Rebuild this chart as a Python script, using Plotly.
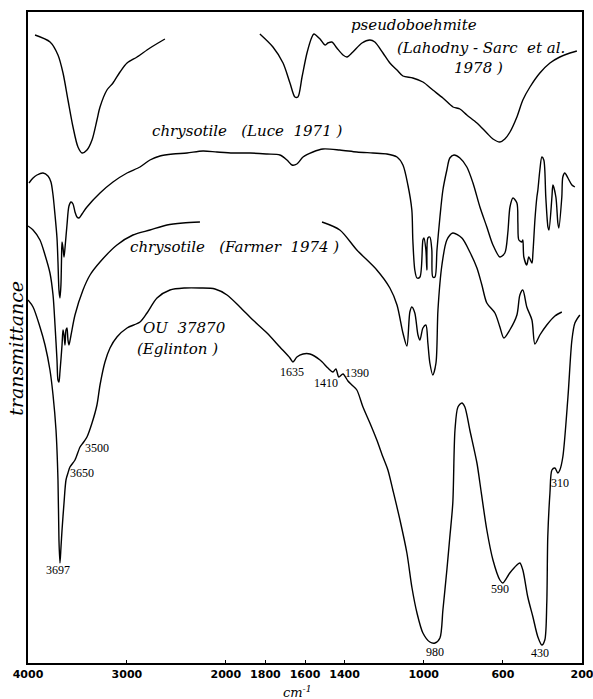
import numpy as np
import plotly.graph_objects as go

# ---- data (wavenumber in cm^-1, transmittance in arbitrary offset units) ----
pb_left_wn = [3929, 3777, 3697, 3646, 3596, 3545, 3495, 3454, 3404, 3353,
              3303, 3272, 3202, 3141, 3070, 2999, 2898, 2767, 2616]
pb_left_t = [628, 621, 608, 590, 563, 536, 516, 510, 513, 523,
             543, 556, 573, 580, 591, 600, 606, 615, 624]

pb_right_wn = [1828, 1762, 1711, 1676, 1651, 1636, 1615, 1590, 1565, 1555,
               1524, 1499, 1484, 1464, 1439, 1408, 1388, 1358, 1312, 1272,
               1247, 1206, 1171, 1135, 1105, 1055, 1004, 954, 903, 852,
               817, 782, 731, 681, 650, 615, 590, 564, 529, 499,
               463, 413, 362, 312, 261, 226]
pb_right_t = [629, 616, 600, 580, 566, 566, 586, 610, 626, 629,
              624, 618, 620, 621, 615, 608, 606, 611, 620, 623,
              621, 610, 600, 593, 587, 585, 581, 573, 565, 556,
              554, 548, 540, 530, 524, 521, 524, 531, 546, 563,
              576, 590, 600, 606, 610, 612]

luce_wn = [3990, 3949, 3909, 3848, 3798, 3768, 3747, 3727, 3707, 3697,
           3687, 3677, 3667, 3661, 3656, 3646, 3636, 3626, 3606, 3586,
           3565, 3545, 3525, 3505, 3485, 3454, 3404, 3272, 3141, 2999,
           2868, 2767, 2666, 2535, 2393, 2231, 2090, 1964, 1878, 1792,
           1727, 1691, 1666, 1641, 1610, 1560, 1509, 1424, 1338, 1257,
           1186, 1135, 1105, 1080, 1060, 1055, 1045, 1034, 1019, 1004,
           999, 989, 984, 979, 969, 959, 954, 943, 933, 918,
           903, 883, 868, 847, 817, 782, 751, 716, 681, 650,
           615, 590, 575, 564, 549, 529, 524, 519, 504, 499,
           494, 479, 469, 453, 448, 438, 428, 423, 413, 403,
           393, 383, 372, 367, 352, 347, 332, 322, 317, 302,
           297, 287, 271, 251, 236]
luce_t = [480, 485, 488, 490, 487, 481, 468, 448, 425, 401,
          373, 365, 378, 405, 421, 415, 406, 415, 438, 457,
          461, 459, 451, 446, 445, 449, 456, 470, 481, 490,
          496, 503, 507, 509, 510, 512, 511, 510, 510, 509,
          508, 503, 498, 499, 506, 511, 514, 513, 511, 510,
          509, 506, 498, 478, 453, 423, 393, 385, 386, 423,
          425, 413, 393, 425, 426, 413, 386, 386, 413, 446,
          473, 493, 505, 508, 505, 496, 480, 456, 436, 418,
          406, 410, 430, 456, 465, 460, 440, 423, 421, 423,
          406, 398, 406, 400, 410, 443, 466, 473, 493, 506,
          503, 466, 436, 433, 466, 478, 466, 440, 435, 466,
          486, 490, 485, 478, 476]

farmer_left_wn = [4000, 3949, 3879, 3828, 3778, 3747, 3727, 3707, 3697, 3687,
                  3677, 3656, 3646, 3636, 3626, 3616, 3606, 3596, 3586, 3565,
                  3525, 3444, 3373, 3272, 3101, 2939, 2767, 2595, 2434, 2262]
farmer_left_t = [437, 433, 423, 408, 390, 368, 338, 303, 283, 281,
                 291, 318, 333, 328, 318, 333, 335, 323, 318, 328,
                 348, 373, 388, 401, 418, 428, 433, 438, 440, 441]

farmer_right_wn = [1514, 1424, 1338, 1237, 1171, 1135, 1105, 1085, 1070, 1060,
                   1045, 1029, 1019, 1004, 989, 979, 969, 954, 938, 928,
                   908, 883, 853, 807, 767, 731, 706, 681, 640, 615,
                   595, 565, 529, 514, 499, 479, 453, 438, 413, 378,
                   337, 302]
farmer_right_t = [441, 433, 413, 393, 375, 358, 330, 317, 351, 356,
                  350, 328, 323, 335, 338, 320, 300, 288, 300, 353,
                  398, 423, 430, 425, 411, 395, 378, 360, 350, 336,
                  325, 333, 348, 368, 373, 356, 343, 319, 328, 338,
                  347, 351]

ou_wn = [4000, 3949, 3879, 3828, 3778, 3747, 3717, 3697, 3687, 3677,
         3667, 3656, 3636, 3616, 3596, 3576, 3525, 3474, 3444, 3404,
         3353, 3303, 3272, 3222, 3171, 3101, 2999, 2868, 2797, 2696,
         2565, 2413, 2262, 2110,
         1994, 1929, 1863, 1792, 1727, 1676, 1661, 1641, 1610, 1575,
         1524, 1484, 1459, 1444, 1429, 1408, 1383, 1363, 1338, 1307,
         1272, 1237, 1206, 1181, 1156, 1120, 1085, 1060, 1034, 1004,
         969, 943, 918, 903, 883, 868, 853, 842, 827, 807,
         792, 767, 731, 716, 681, 650, 615, 600, 565, 529,
         514, 499, 474, 448, 423, 403, 388, 378, 373, 362,
         352, 337, 322, 312, 297, 271, 251, 236, 211]
ou_t = [363, 356, 336, 318, 293, 268, 233, 183, 123, 100,
        115, 133, 160, 183, 190, 196, 203, 216, 220, 226,
        240, 258, 278, 301, 315, 326, 335, 341, 350, 365,
        373, 375, 375, 374,
        368, 356, 343, 330, 316, 305, 301, 306, 309, 309,
        303, 295, 291, 294, 286, 289, 282, 278, 273, 256,
        240, 223, 206, 193, 173, 143, 110, 76, 50, 30,
        21, 20, 25, 53, 93, 126, 160, 233, 256, 260,
        256, 233, 200, 180, 133, 103, 83, 80, 90, 98,
        100, 93, 66, 46, 26, 18, 23, 60, 126, 170,
        193, 195, 190, 193, 206, 266, 323, 340, 348]

tick_wn = [4000, 3000, 2000, 1800, 1600, 1400, 1000, 600, 200]

peak_labels = ["3697", "3650", "3500", "1635", "1410", "1390", "980", "590", "430", "310"]
peak_wn = [3697, 3454, 3303, 1666, 1494, 1338, 943, 615, 413, 312]
peak_t = [93, 190, 215, 291, 280, 290, 11, 74, 10, 180]

curve_labels = ["pseudoboehmite", "(Lahodny - Sarc  et al.", "1978 )",
                "chrysotile   (Luce  1971 )", "chrysotile   (Farmer  1974 )",
                "OU  37870", "(Eglinton )"]
curve_label_wn = [1050, 711, 721, 1893, 1954, 2423, 2484]
curve_label_t = [638, 615, 595, 532, 416, 335, 314]


# IR chart convention: 4000-2000 cm^-1 drawn at half the scale of 2000-200 cm^-1
def to_axis(wn):
    wn = np.asarray(wn, dtype=float)
    return np.where(wn >= 2000, (4000 - wn) / 2.0, 1000 + (2000 - wn))


fig = go.Figure()
line = dict(color="black", width=1.4)
for wn, t in [(pb_left_wn, pb_left_t), (pb_right_wn, pb_right_t), (luce_wn, luce_t),
              (farmer_left_wn, farmer_left_t), (farmer_right_wn, farmer_right_t),
              (ou_wn, ou_t)]:
    fig.add_trace(go.Scatter(x=to_axis(wn), y=t, mode="lines", line=line,
                             line_shape="spline", line_smoothing=0.8,
                             hoverinfo="skip", showlegend=False))

annotations = []
for txt, w, t in zip(peak_labels, peak_wn, peak_t):
    annotations.append(dict(x=float(to_axis(w)), y=t, xref="x", yref="y", text=txt,
                            xanchor="center", yanchor="middle", showarrow=False,
                            font=dict(family="Liberation Serif", size=12, color="#000000")))
for txt, w, t in zip(curve_labels, curve_label_wn, curve_label_t):
    annotations.append(dict(x=float(to_axis(w)), y=t, xref="x", yref="y", text="<i>" + txt + "</i>",
                            xanchor="center", yanchor="middle", showarrow=False,
                            font=dict(family="DejaVu Serif", size=15, color="#000000")))
annotations.append(dict(x=-0.022, y=0.484, xref="paper", yref="paper", text="<i>transmittance</i>",
                        xanchor="center", yanchor="middle", textangle=-90, showarrow=False,
                        font=dict(family="DejaVu Serif", size=19, color="#000000")))
annotations.append(dict(x=0.486, y=-0.045, xref="paper", yref="paper", text="<i>cm<sup>-1</sup></i>",
                        xanchor="center", yanchor="middle", showarrow=False,
                        font=dict(family="DejaVu Serif", size=13, color="#000000")))

fig.update_layout(
    width=593, height=699,
    margin=dict(l=28, r=11, t=12, b=36, autoexpand=False),
    paper_bgcolor="white", plot_bgcolor="white",
    annotations=annotations,
    xaxis=dict(range=[0, 2800], tickvals=to_axis(tick_wn), ticktext=[str(v) for v in tick_wn],
               showline=True, mirror=True, linecolor="black", linewidth=1.5,
               ticks="inside", ticklen=3, tickcolor="black", automargin=False,
               ticklabeloverflow="allow",
               tickfont=dict(family="DejaVu Sans", size=11, color="black", weight="bold"),
               showgrid=False, zeroline=False, fixedrange=True),
    yaxis=dict(range=[0, 651], showticklabels=False, showline=True, mirror=True,
               linecolor="black", linewidth=1.5, ticks="", showgrid=False, zeroline=False,
               fixedrange=True, automargin=False),
)

fig.write_html("out.html", config={"displayModeBar": False},
               post_script="document.body.style.margin='0';document.body.style.overflow='hidden';")
